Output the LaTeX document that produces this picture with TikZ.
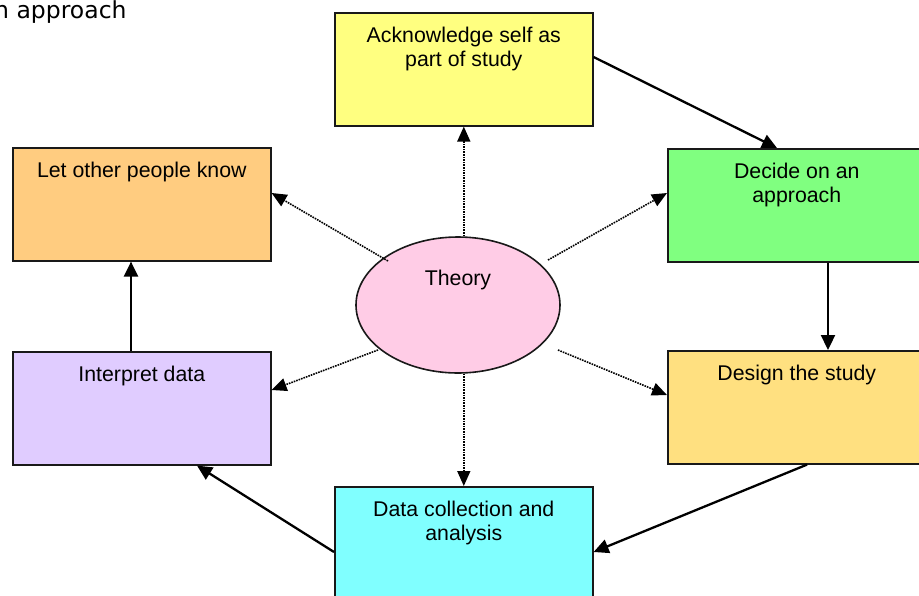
\documentclass[tikz,border=0pt]{standalone}
\usepackage{fontspec}
\setmainfont{Liberation Sans}
\newfontfamily\dejavu{DejaVu Sans}
\usetikzlibrary{arrows.meta,calc,shapes.geometric}
\definecolor{ackC}{HTML}{FFFF80}
\definecolor{decC}{HTML}{80FF80}
\definecolor{desC}{HTML}{FFE080}
\definecolor{datC}{HTML}{80FFFF}
\definecolor{intC}{HTML}{E0CCFF}
\definecolor{letC}{HTML}{FFCC80}
\definecolor{thC}{HTML}{FFCCE6}
\begin{document}
\begin{tikzpicture}[x=1pt,y=-1pt,
  box/.style={draw=black!90, line width=1.6pt, minimum width=258pt, minimum height=113pt, anchor=north west, inner sep=0pt},
  lbl/.style={anchor=north, inner sep=0pt, align=center, font=\fontsize{21.3}{24}\selectfont},
  flow/.style={line width=2.3pt, -{Triangle[length=15pt,width=14pt]}},
  theo/.style={line width=1.6pt, densely dotted, -{Triangle[length=15pt,width=13pt]}}]
\fill[white] (0,0) rectangle (919,595);
\useasboundingbox (0,0) rectangle (919,595);
\begin{scope}
\clip (0,0) rectangle (919,595);
\node[anchor=base west, inner sep=0pt, font=\dejavu\fontsize{23.5}{27}\selectfont] (cap) at (-6,18) {n approach};

\node[box, fill=ackC] (ack) at (334,12) {};
\node[box, fill=decC] (dec) at (667,148) {};
\node[box, fill=desC] (des) at (667,350) {};
\node[box, fill=datC] (dat) at (334,486) {};
\node[box, fill=intC] (int) at (12,351) {};
\node[box, fill=letC] (let) at (12,147) {};
\node[ellipse, draw=black!90, line width=1.6pt, fill=thC, minimum width=204pt, minimum height=136pt, inner sep=0pt] (th) at (458,305) {};

\node[lbl] (ackT) at ($(ack.north)+(0,15)$) {Acknowledge self as\\part of study};
\node[lbl] (decT) at ($(dec.north)+(0,15)$) {Decide on an\\approach};
\node[lbl] (desT) at ($(des.north)+(0,15)$) {Design the study};
\node[lbl] (datT) at ($(dat.north)+(0,15)$) {Data collection and\\analysis};
\node[lbl] (intT) at ($(int.north)+(0,15)$) {Interpret data};
\node[lbl] (letT) at ($(let.north)+(0,15)$) {Let other people know};
\node[anchor=base, inner sep=0pt, font=\fontsize{21.3}{24}\selectfont] (thT) at ($(th.center)+(0,-20)$) {Theory};

\draw[flow] ($(ack.north east)+(0,45)$) -- ($(dec.north west)+(110,0)$);
\draw[flow] ($(dec.south west)+(161,0)$) -- ($(des.north west)+(161,0)$);
\draw[flow] ($(des.south west)+(140,0)$) -- ($(dat.north east)+(0,66)$);
\draw[flow] ($(dat.north west)+(0,66)$) -- ($(int.south west)+(185,0)$);
\draw[flow] ($(int.north west)+(119,0)$) -- ($(let.south west)+(119,0)$);

\draw[theo] (th.north -| ack.south) -- (ack.south);
\draw[theo] (th.south -| dat.north) -- (dat.north);
\draw[theo] ($(th.center)+(-70,-44)$) -- ($(let.north east)+(0,46)$);
\draw[theo] ($(th.center)+(90,-45)$) -- ($(dec.north west)+(0,45)$);
\draw[theo] ($(th.center)+(-80,45)$) -- ($(int.north east)+(0,39)$);
\draw[theo] ($(th.center)+(100,45)$) -- ($(des.north west)+(0,45)$);
\end{scope}
\end{tikzpicture}
\end{document}
